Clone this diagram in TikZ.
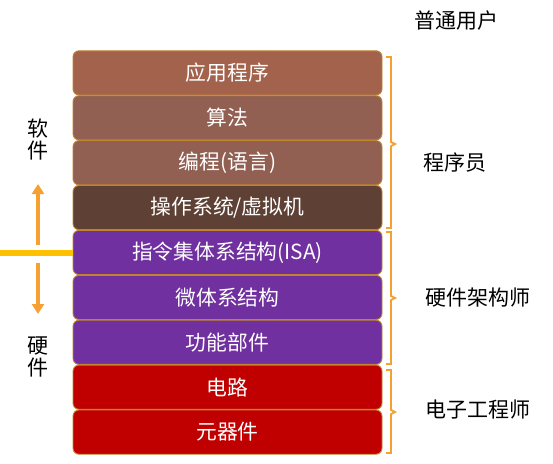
\documentclass[tikz,border=0pt]{standalone}
\usepackage{fontspec}
\setmainfont{Noto Sans CJK SC}
\usetikzlibrary{arrows.meta}
\definecolor{bApp}{HTML}{A3624B}
\definecolor{bMid}{HTML}{916052}
\definecolor{bOS}{HTML}{5E4034}
\definecolor{bPur}{HTML}{7030A0}
\definecolor{bRed}{HTML}{C00000}
\definecolor{bEdge}{HTML}{C0832E}
\definecolor{brc}{HTML}{F5A030}
\definecolor{ylw}{HTML}{FFC000}
\tikzset{
  layer/.style={draw=bEdge, line width=0.9pt, rounded corners=6pt, minimum width=309pt,
    minimum height=44.2pt, inner sep=0pt, text=white, font=\fontsize{20.8}{24}\selectfont},
  lbl/.style={font=\fontsize{21}{25}\selectfont, text=black, inner sep=0pt},
  brc/.style={draw=brc, line width=1.8pt},
  arr/.style={draw=brc, line width=3.4pt, -{Triangle[width=12pt,length=10pt]}}
}
\begin{document}
\begin{tikzpicture}[x=1pt,y=-1pt]
\useasboundingbox (0,0) rectangle (553,463);
\node[layer, fill=bApp] (l1) at (227.5,72.9) {应用程序};
\node[layer, fill=bMid] (l2) at (227.5,117.8) {算法};
\node[layer, fill=bMid] (l3) at (227.5,162.7) {编程(语言)};
\node[layer, fill=bOS] (l4) at (227.5,207.6) {操作系统/虚拟机};
\node[layer, fill=bPur] (l5) at (227.5,252.5) {指令集体系结构(ISA)};
\node[layer, fill=bPur] (l6) at (227.5,297.4) {微体系结构};
\node[layer, fill=bPur] (l7) at (227.5,342.3) {功能部件};
\node[layer, fill=bRed] (l8) at (227.5,387.2) {电路};
\node[layer, fill=bRed] (l9) at (227.5,432.1) {元器件};
% labels
\node[lbl] (u0) at (456,21) {普通用户};
\node[lbl] (u1) at (455,163) {程序员};
\node[lbl] (u2) at (478,298) {硬件架构师};
\node[lbl] (u3) at (478,410) {电子工程师};
\node[lbl, align=center, font=\fontsize{21}{22}\selectfont] (sw) at (38,140) {软\\件};
\node[lbl, align=center, font=\fontsize{21}{22}\selectfont] (hw) at (38,357) {硬\\件};
% braces
\draw[brc] (386,57) -- (391,57) -- (391,142) -- (395,144) -- (391,146) -- (391,228) -- (386,228);
\draw[brc] (386,232) -- (391,232) -- (391,296) -- (395,298) -- (391,300) -- (391,364) -- (386,364);
\draw[brc] (386,370) -- (391,370) -- (391,410) -- (395,412) -- (391,414) -- (391,453) -- (386,453);
% divider and arrows
\coordinate (dl) at (0,252.5);
\draw[draw=ylw, line width=6pt] (dl) -- (l5.west);
\coordinate (ua) at (38,245);
\coordinate (ub) at (38,184);
\coordinate (da) at (38,263);
\coordinate (db) at (38,314);
\draw[arr] (ua) -- (ub);
\draw[arr] (da) -- (db);
\end{tikzpicture}
\end{document}
